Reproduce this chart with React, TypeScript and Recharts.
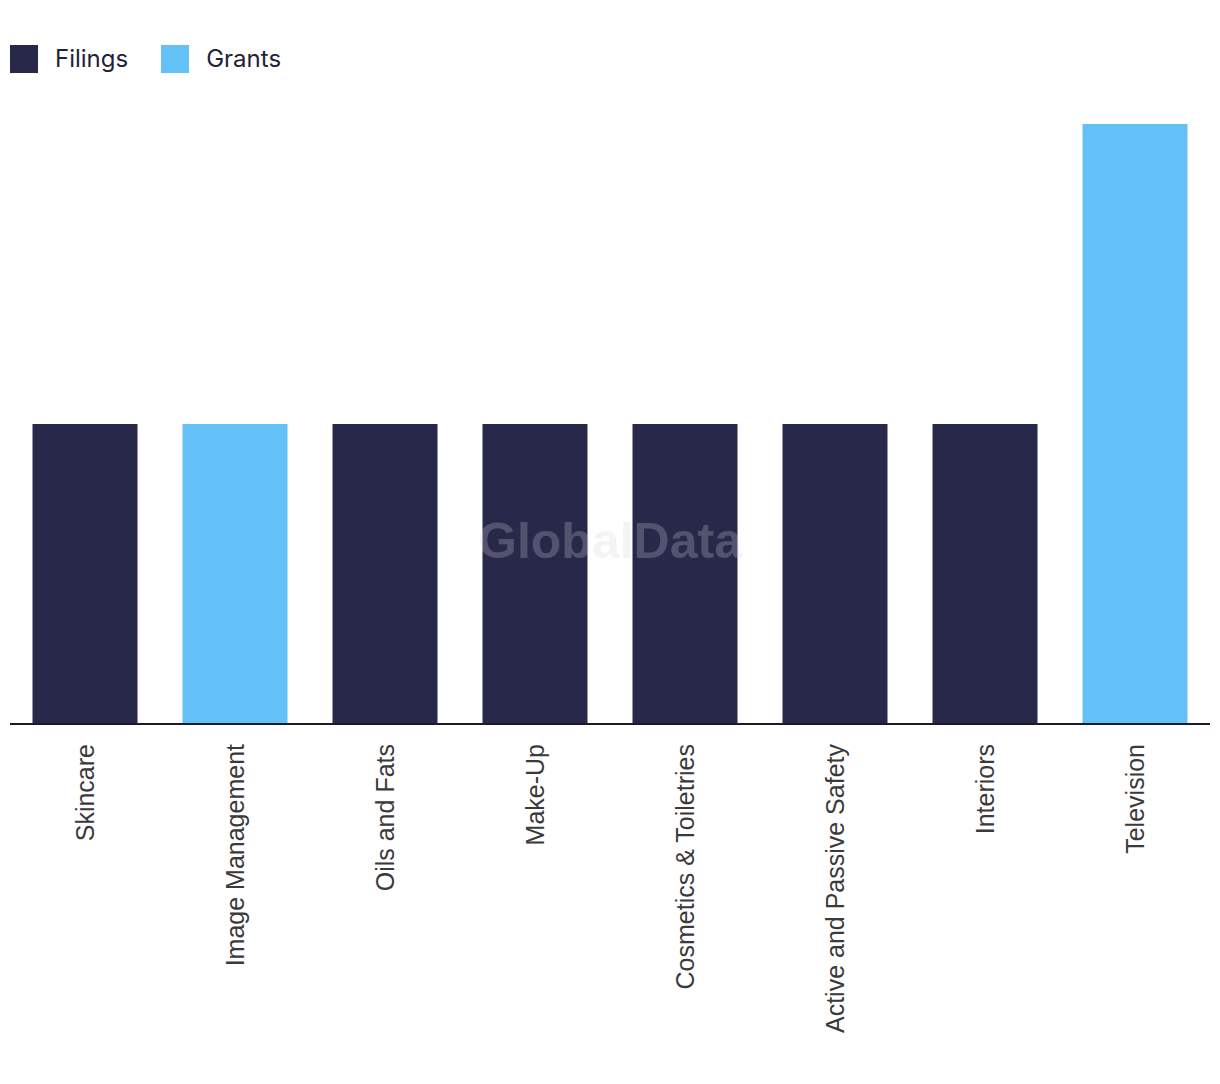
import React from "react";
import { BarChart, Bar, XAxis, YAxis } from "recharts";

const categories = [
  "Skincare",
  "Image Management",
  "Oils and Fats",
  "Make-Up",
  "Cosmetics & Toiletries",
  "Active and Passive Safety",
  "Interiors",
  "Television",
];
const filings = [1, 0, 1, 1, 1, 1, 1, 0];
const grants = [0, 1, 0, 0, 0, 0, 0, 2];
const seriesNames = ["Filings", "Grants"];
const seriesColors = ["#28284a", "#64c1f8"];

const data = categories.map((c, i) => ({ name: c, Filings: filings[i], Grants: grants[i] }));

const Tick = (props: any) => {
  const { x, y, payload } = props;
  return (
    <text
      transform={`translate(${x},${y + 12}) rotate(-90)`}
      textAnchor="end"
      dominantBaseline="central"
      fontSize={25}
      fontFamily="'Liberation Sans', Arial, sans-serif"
      fill="#3a3a3a"
    >
      {payload.value}
    </text>
  );
};

export default function App() {
  return (
    <div style={{ position: "absolute", left: 0, top: 0, width: 1220, height: 1084, background: "#fff" }}>
      <div style={{ position: "absolute", left: 10, top: 44, display: "flex", alignItems: "center", fontFamily: "Inter, sans-serif", fontSize: 24, color: "#222236" }}>
        {seriesNames.map((n, i) => (
          <div key={n} style={{ display: "flex", alignItems: "center", marginRight: 33 }}>
            <div style={{ width: 28, height: 28, background: seriesColors[i], marginRight: 17 }} />
            <span>{n}</span>
          </div>
        ))}
      </div>
      <BarChart
        width={1220}
        height={1084}
        data={data}
        margin={{ top: 124, right: 10, bottom: 60, left: 10 }}
        barCategoryGap="15%"
      >
        <YAxis hide domain={[0, 2]} />
        <XAxis
          dataKey="name"
          interval={0}
          height={300}
          tickLine={false}
          axisLine={{ stroke: "#1a1a2e", strokeWidth: 2 }}
          tick={<Tick />}
        />
        <Bar dataKey="Filings" stackId="a" fill={seriesColors[0]} isAnimationActive={false} />
        <Bar dataKey="Grants" stackId="a" fill={seriesColors[1]} isAnimationActive={false} />
      </BarChart>
      <div
        style={{
          position: "absolute",
          left: 0,
          width: 1220,
          top: 512,
          textAlign: "center",
          fontFamily: "'Liberation Sans', Arial, sans-serif",
          fontWeight: "bold",
          fontSize: 50,
          color: "rgba(210,210,225,0.25)",
          pointerEvents: "none",
        }}
      >
        GlobalData
      </div>
    </div>
  );
}
